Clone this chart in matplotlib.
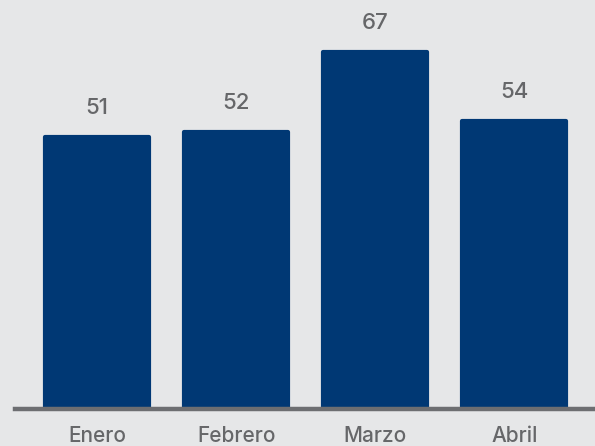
import matplotlib.pyplot as plt
import numpy as np

meses = ["Enero", "Febrero", "Marzo", "Abril"]
valores = [51, 52, 67, 54]

bg = "#e6e7e8"
azul = "#003874"
gris = "#666769"

fig = plt.figure(figsize=(5.95, 4.46), dpi=100, facecolor=bg)
ax = fig.add_axes([15 / 595, 1 - 409 / 446, 580 / 595, 409 / 446])
ax.set_facecolor(bg)

x = np.arange(len(meses))
ax.bar(x, valores, width=0.75, color=azul, edgecolor=azul, linewidth=3,
       joinstyle="round", zorder=2)

for xi, v in zip(x, valores):
    ax.annotate(str(v), (xi, v), xytext=(0, 14), textcoords="offset points",
                ha="center", va="bottom", fontsize=16, color=gris,
                family="Inter", weight="medium")

ax.set_xlim(-0.59, 3.58)
ax.set_ylim(0, 76.8)
for s in ["top", "right", "left"]:
    ax.spines[s].set_visible(False)
ax.spines["bottom"].set_color("#6d6e71")
ax.spines["bottom"].set_linewidth(3.2)
ax.spines["bottom"].set_zorder(3)
ax.set_yticks([])
ax.set_xticks(x)
ax.set_xticklabels(meses, fontsize=15, color=gris, family="Inter",
                   weight="medium")
ax.tick_params(axis="x", length=0, pad=12)

fig.savefig("out.png", dpi=100, facecolor=bg)
